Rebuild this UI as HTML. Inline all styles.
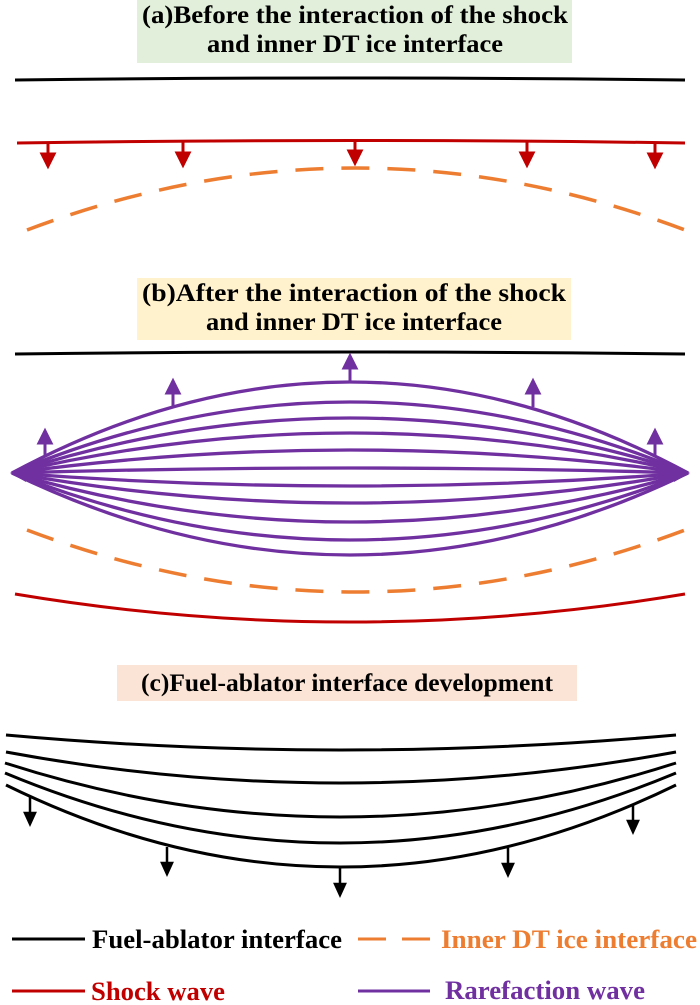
<!DOCTYPE html>
<html><head><meta charset="utf-8"><style>body{margin:0;background:#fff}svg{display:block}text{font-family:"Liberation Serif","Times New Roman",serif;font-weight:bold}</style></head><body>
<svg width="700" height="1005" viewBox="0 0 700 1005" xmlns="http://www.w3.org/2000/svg">
<!-- (a) -->
<rect x="137" y="0" width="435" height="63" fill="#e2efda"/>
<text x="355" y="23" font-size="25" text-anchor="middle" textLength="426" lengthAdjust="spacingAndGlyphs">(a)Before the interaction of the shock</text>
<text x="355" y="52" font-size="25" text-anchor="middle" textLength="296" lengthAdjust="spacingAndGlyphs">and inner DT ice interface</text>
<path d="M15,80 Q350,76 685,80" stroke="#000" stroke-width="3" fill="none"/>
<path d="M17,143 Q350,138 685,143" stroke="#c00000" stroke-width="3" fill="none"/>
<g stroke="#c00000" stroke-width="3" fill="#c00000">
<line x1="48" y1="143" x2="48" y2="155"/><polygon points="42,154 54,154 48,166"/>
<line x1="183" y1="142" x2="183" y2="154"/><polygon points="177,153 189,153 183,165"/>
<line x1="355" y1="140" x2="355" y2="152"/><polygon points="349,151 361,151 355,163"/>
<line x1="527" y1="142" x2="527" y2="154"/><polygon points="521,153 533,153 527,165"/>
<line x1="655" y1="143" x2="655" y2="155"/><polygon points="649,154 661,154 655,166"/>
</g>
<path d="M27,230 Q355,106 685,230" stroke="#ed7d31" stroke-width="3.5" fill="none" stroke-dasharray="28,18"/>
<!-- (b) -->
<rect x="137" y="278" width="434" height="62" fill="#fff2cc"/>
<text x="354" y="301" font-size="25" text-anchor="middle" textLength="424" lengthAdjust="spacingAndGlyphs">(b)After the interaction of the shock</text>
<text x="354" y="330" font-size="25" text-anchor="middle" textLength="296" lengthAdjust="spacingAndGlyphs">and inner DT ice interface</text>
<path d="M15,354 Q350,350 685,354" stroke="#000" stroke-width="3" fill="none"/>
<g stroke="#7030a0" stroke-width="3.3" fill="none">
<path d="M12,473 Q350,291 688,473"/>
<path d="M12,473 Q350,331 688,473"/>
<path d="M12,473 Q350,363 688,473"/>
<path d="M12,473 Q350,393 688,473"/>
<path d="M12,473 Q350,427 688,473"/>
<path d="M12,473 Q350,463 688,473"/>
<path d="M12,473 Q350,499 688,473"/>
<path d="M12,473 Q350,533 688,473"/>
<path d="M12,473 Q350,571 688,473"/>
<path d="M12,473 Q350,607 688,473"/>
<path d="M12,473 Q350,637 688,473"/>
</g>
<polygon points="10,473 26,464 26,482" fill="#7030a0"/>
<polygon points="690,473 674,464 674,482" fill="#7030a0"/>
<g stroke="#7030a0" stroke-width="3" fill="#7030a0">
<line x1="45" y1="457" x2="45" y2="442"/><polygon points="39,443 51,443 45,431"/>
<line x1="173" y1="407" x2="173" y2="392"/><polygon points="167,393 179,393 173,381"/>
<line x1="350" y1="382" x2="350" y2="367"/><polygon points="344,368 356,368 350,356"/>
<line x1="533" y1="407" x2="533" y2="392"/><polygon points="527,393 539,393 533,381"/>
<line x1="655" y1="457" x2="655" y2="442"/><polygon points="649,443 661,443 655,431"/>
</g>
<path d="M27,530 Q355,654 685,530" stroke="#ed7d31" stroke-width="3.5" fill="none" stroke-dasharray="28,18"/>
<path d="M15,594 Q350,650 685,594" stroke="#c00000" stroke-width="3" fill="none"/>
<!-- (c) -->
<rect x="117" y="665" width="460" height="36" fill="#fbe4d5"/>
<text x="347" y="691" font-size="25" text-anchor="middle" textLength="412" lengthAdjust="spacingAndGlyphs">(c)Fuel-ablator interface development</text>
<g stroke="#000" stroke-width="3" fill="none">
<path d="M6,735 Q340,765 676,735"/>
<path d="M6,752 Q340,814 676,752"/>
<path d="M5,763 Q340,871 676,763"/>
<path d="M5,773 Q340,913 676,773"/>
<path d="M6,785 Q340,949 676,785"/>
</g>
<g stroke="#000" stroke-width="2.5" fill="#000">
<line x1="30" y1="797" x2="30" y2="814"/><polygon points="25,813 35,813 30,824"/>
<line x1="167" y1="847" x2="167" y2="864"/><polygon points="162,863 172,863 167,874"/>
<line x1="340" y1="868" x2="340" y2="885"/><polygon points="335,884 345,884 340,895"/>
<line x1="508" y1="848" x2="508" y2="865"/><polygon points="503,864 513,864 508,875"/>
<line x1="633" y1="805" x2="633" y2="822"/><polygon points="628,821 638,821 633,832"/>
</g>
<!-- legend -->
<line x1="12" y1="939" x2="85" y2="939" stroke="#000" stroke-width="3"/>
<text x="92" y="948" font-size="26" textLength="250" lengthAdjust="spacingAndGlyphs" fill="#000">Fuel-ablator interface</text>
<line x1="358" y1="939" x2="430" y2="939" stroke="#ed7d31" stroke-width="3" stroke-dasharray="28,16"/>
<text x="441" y="948" font-size="26" textLength="256" lengthAdjust="spacingAndGlyphs" fill="#ed7d31">Inner DT ice interface</text>
<line x1="12" y1="991" x2="85" y2="991" stroke="#c00000" stroke-width="3"/>
<text x="91" y="1000" font-size="26" textLength="134" lengthAdjust="spacingAndGlyphs" fill="#c00000">Shock wave</text>
<line x1="358" y1="991" x2="430" y2="991" stroke="#7030a0" stroke-width="3"/>
<text x="445" y="999" font-size="26" textLength="200" lengthAdjust="spacingAndGlyphs" fill="#7030a0">Rarefaction wave</text>
</svg>
</body></html>
